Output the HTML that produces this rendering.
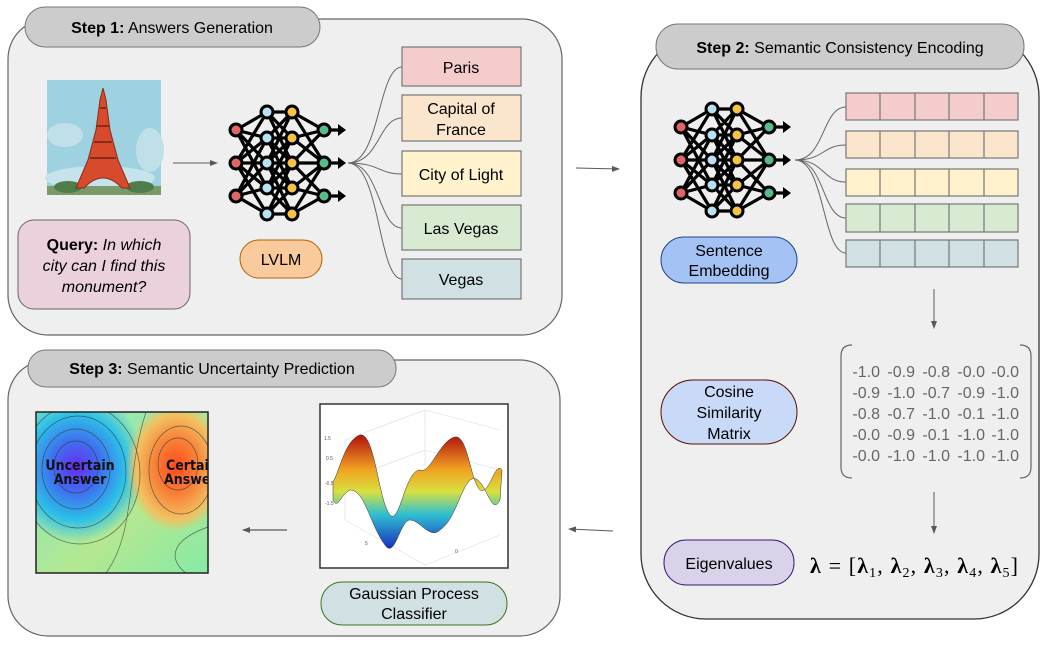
<!DOCTYPE html>
<html><head><meta charset="utf-8"><style>
html,body{margin:0;padding:0;background:#fff;}
svg{display:block;font-family:"Liberation Sans",Arial,sans-serif;}
</style></head><body>
<svg width="1046" height="654" viewBox="0 0 1046 654" xmlns="http://www.w3.org/2000/svg">
<defs>
<marker id="ah" markerWidth="8" markerHeight="8" refX="7" refY="4" orient="auto" markerUnits="userSpaceOnUse">
<path d="M0,1 L8,4 L0,7 z" fill="#595959"/></marker>
<g id="nn">
 <g stroke="#000" stroke-width="3.2" fill="none" stroke-linecap="round">
  <path d="M0,18 L31,0 M0,18 L31,26 M0,18 L31,51 M0,18 L31,76 M0,51 L31,0 M0,51 L31,26 M0,51 L31,51 M0,51 L31,76 M0,51 L31,102 M0,84 L31,26 M0,84 L31,51 M0,84 L31,76 M0,84 L31,102"/>
  <path d="M31,0 L56,0 M31,0 L56,26 M31,0 L56,51 M31,26 L56,0 M31,26 L56,26 M31,26 L56,51 M31,26 L56,76 M31,51 L56,0 M31,51 L56,26 M31,51 L56,51 M31,51 L56,76 M31,51 L56,102 M31,76 L56,26 M31,76 L56,51 M31,76 L56,76 M31,76 L56,102 M31,102 L56,51 M31,102 L56,76 M31,102 L56,102"/>
  <path d="M56,0 L88,18 M56,26 L88,18 M56,26 L88,51 M56,51 L88,18 M56,51 L88,51 M56,51 L88,84 M56,76 L88,51 M56,76 L88,84 M56,102 L88,84 M56,0 L88,51 M56,102 L88,51"/>
  <path d="M88,18 L104,18 M88,51 L104,51 M88,84 L104,84"/>
 </g>
 <g fill="#000"><path d="M102,12 L110,18 L102,24z M102,45 L110,51 L102,57z M102,78 L110,84 L102,90z"/></g>
 <g stroke="#000" stroke-width="3">
  <circle cx="0" cy="18" r="6" fill="#e06666"/><circle cx="0" cy="51" r="6" fill="#e06666"/><circle cx="0" cy="84" r="6" fill="#e06666"/>
  <circle cx="31" cy="0" r="6" fill="#b8e2f2"/><circle cx="31" cy="26" r="6" fill="#b8e2f2"/><circle cx="31" cy="51" r="6" fill="#b8e2f2"/><circle cx="31" cy="76" r="6" fill="#b8e2f2"/><circle cx="31" cy="102" r="6" fill="#b8e2f2"/>
  <circle cx="56" cy="0" r="6" fill="#f6c342"/><circle cx="56" cy="26" r="6" fill="#f6c342"/><circle cx="56" cy="51" r="6" fill="#f6c342"/><circle cx="56" cy="76" r="6" fill="#f6c342"/><circle cx="56" cy="102" r="6" fill="#f6c342"/>
  <circle cx="88" cy="18" r="6" fill="#57bb8a"/><circle cx="88" cy="51" r="6" fill="#57bb8a"/><circle cx="88" cy="84" r="6" fill="#57bb8a"/>
 </g>
</g>
<radialGradient id="blue" cx="0.5" cy="0.5" r="0.5"><stop offset="0" stop-color="#6a2cf0"/><stop offset="0.35" stop-color="#3f6ff0"/><stop offset="0.7" stop-color="#2cc0e8"/><stop offset="1" stop-color="#2cc0e8" stop-opacity="0"/></radialGradient>
<radialGradient id="red" cx="0.5" cy="0.5" r="0.5"><stop offset="0" stop-color="#ff4a1c"/><stop offset="0.45" stop-color="#f7843a"/><stop offset="0.8" stop-color="#f2c060"/><stop offset="1" stop-color="#f2c060" stop-opacity="0"/></radialGradient>
<linearGradient id="bg3" x1="0" y1="0" x2="1" y2="1"><stop offset="0" stop-color="#7fe6c8"/><stop offset="0.6" stop-color="#b4e890"/><stop offset="1" stop-color="#86eaa6"/></linearGradient>
<linearGradient id="surf" x1="0" y1="0" x2="0" y2="1"><stop offset="0" stop-color="#b01010"/><stop offset="0.3" stop-color="#f0a020"/><stop offset="0.5" stop-color="#d8e040"/><stop offset="0.7" stop-color="#30c0d0"/><stop offset="1" stop-color="#1830c0"/></linearGradient>
</defs>

<!-- Step 1 panel -->
<path d="M48,19 H522 A40,40 0 0 1 562,59 V295 A40,40 0 0 1 522,335 H48 A40,40 0 0 1 8,295 V59 A40,40 0 0 1 48,19 Z" fill="#efefef" stroke="#666" stroke-width="1.2"/>
<rect x="25" y="7" width="295" height="40" rx="20" fill="#cccccc" stroke="#777" stroke-width="1"/>
<text x="172" y="33" font-size="16" text-anchor="middle"><tspan font-weight="bold">Step 1:</tspan> Answers Generation</text>

<!-- Eiffel image -->
<rect x="47" y="80" width="114" height="115" fill="#9fd2e0"/>
<ellipse cx="65" cy="135" rx="18" ry="12" fill="#bfe0e8"/>
<ellipse cx="150" cy="150" rx="14" ry="22" fill="#bfe0e8"/>
<ellipse cx="100" cy="178" rx="55" ry="12" fill="#c5e3ea"/>
<rect x="47" y="186" width="114" height="9" fill="#7a9a6a"/>
<ellipse cx="68" cy="187" rx="14" ry="6" fill="#4f7d4a"/><ellipse cx="140" cy="187" rx="14" ry="6" fill="#4f7d4a"/>
<path d="M103,88 L100,100 L96,130 L88,160 L76,188 L84,188 Q103,168 122,188 L130,188 L118,160 L110,130 L106,100 Z" fill="#d84a2c" stroke="#8a2a18" stroke-width="1"/>
<path d="M90,158 H116 M94,142 H112 M97,126 H109 M100,108 H106" stroke="#8a2a18" stroke-width="2"/>

<line x1="173" y1="163" x2="217" y2="163" stroke="#595959" stroke-width="1" marker-end="url(#ah)"/>

<rect x="18" y="220" width="172" height="89" rx="16" fill="#ead1dc" stroke="#666" stroke-width="1"/>
<text font-size="16" text-anchor="middle"><tspan x="104" y="250"><tspan font-weight="bold">Query:</tspan> <tspan font-style="italic">In which</tspan></tspan><tspan x="104" y="271" font-style="italic">city can I find this</tspan><tspan x="104" y="292" font-style="italic">monument?</tspan></text>

<use href="#nn" x="236" y="112"/>

<rect x="240" y="240" width="82" height="38" rx="19" fill="#f9cb9c" stroke="#b45f06" stroke-width="1"/>
<text x="281" y="265" font-size="16" text-anchor="middle">LVLM</text>

<g fill="none" stroke="#666" stroke-width="1">
<path d="M348,163 C380,163 378,67 402,67"/>
<path d="M348,163 C380,163 378,118 402,118"/>
<path d="M348,163 C380,163 378,174 402,174"/>
<path d="M348,163 C380,163 378,228 402,228"/>
<path d="M348,163 C380,163 378,279 402,279"/>
</g>
<g stroke="#777" stroke-width="1.2">
<rect x="402" y="47" width="119" height="39" fill="#f4cccc"/>
<rect x="402" y="95" width="119" height="46" fill="#fce5cd"/>
<rect x="402" y="151" width="119" height="45" fill="#fff2cc"/>
<rect x="402" y="205" width="119" height="45" fill="#d9ead3"/>
<rect x="402" y="259" width="119" height="40" fill="#d0e0e3"/>
</g>
<g font-size="16" text-anchor="middle" fill="#000">
<text x="461" y="73">Paris</text>
<text x="461" y="114">Capital of</text><text x="461" y="135">France</text>
<text x="461" y="180">City of Light</text>
<text x="461" y="234">Las Vegas</text>
<text x="461" y="285">Vegas</text>
</g>

<line x1="576" y1="168" x2="619" y2="169" stroke="#595959" stroke-width="1" marker-end="url(#ah)"/>

<!-- Step 2 panel -->
<path d="M706,32 H974 A65,65 0 0 1 1039,97 V554 A65,65 0 0 1 974,619 H706 A65,65 0 0 1 641,554 V97 A65,65 0 0 1 706,32 Z" fill="#efefef" stroke="#333" stroke-width="1.3"/>
<rect x="656" y="24" width="368" height="45" rx="22" fill="#cccccc" stroke="#777" stroke-width="1"/>
<text x="840" y="53" font-size="16" text-anchor="middle"><tspan font-weight="bold">Step 2:</tspan> Semantic Consistency Encoding</text>

<use href="#nn" x="681" y="109"/>
<g fill="none" stroke="#666" stroke-width="1">
<path d="M795,160 C825,160 822,107 846,107"/>
<path d="M795,160 C825,160 822,145 846,145"/>
<path d="M795,160 C825,160 822,182 846,182"/>
<path d="M795,160 C825,160 822,218 846,218"/>
<path d="M795,160 C825,160 822,253 846,253"/>
</g>
<g stroke="#777" stroke-width="1.2">
<rect x="846" y="93" width="172" height="27" fill="#f4cccc"/>
<rect x="846" y="131" width="172" height="27" fill="#fce5cd"/>
<rect x="846" y="169" width="172" height="27" fill="#fff2cc"/>
<rect x="846" y="204" width="172" height="28" fill="#d9ead3"/>
<rect x="846" y="240" width="172" height="27" fill="#d0e0e3"/>
<path d="M880,93 V120 M915,93 V120 M949,93 V120 M984,93 V120 M880,131 V158 M915,131 V158 M949,131 V158 M984,131 V158 M880,169 V196 M915,169 V196 M949,169 V196 M984,169 V196 M880,204 V232 M915,204 V232 M949,204 V232 M984,204 V232 M880,240 V267 M915,240 V267 M949,240 V267 M984,240 V267" fill="none"/>
</g>

<rect x="661" y="237" width="136" height="46" rx="23" fill="#a4c2f4" stroke="#1c4587" stroke-width="1"/>
<text font-size="16" text-anchor="middle"><tspan x="729" y="256">Sentence</tspan><tspan x="729" y="276">Embedding</tspan></text>

<line x1="934" y1="289" x2="934" y2="328" stroke="#595959" stroke-width="1" marker-end="url(#ah)"/>

<path d="M852,345 Q841,345 841,356 V467 Q841,478 852,478" fill="none" stroke="#666" stroke-width="1.2"/>
<path d="M1020,345 Q1031,345 1031,356 V467 Q1031,478 1020,478" fill="none" stroke="#666" stroke-width="1.2"/>
<g font-size="16" fill="#666" text-anchor="end">
<text y="377"><tspan x="880">-1.0</tspan><tspan x="915">-0.9</tspan><tspan x="950">-0.8</tspan><tspan x="985">-0.0</tspan><tspan x="1019">-0.0</tspan></text>
<text y="398"><tspan x="880">-0.9</tspan><tspan x="915">-1.0</tspan><tspan x="950">-0.7</tspan><tspan x="985">-0.9</tspan><tspan x="1019">-1.0</tspan></text>
<text y="419"><tspan x="880">-0.8</tspan><tspan x="915">-0.7</tspan><tspan x="950">-1.0</tspan><tspan x="985">-0.1</tspan><tspan x="1019">-1.0</tspan></text>
<text y="440"><tspan x="880">-0.0</tspan><tspan x="915">-0.9</tspan><tspan x="950">-0.1</tspan><tspan x="985">-1.0</tspan><tspan x="1019">-1.0</tspan></text>
<text y="461"><tspan x="880">-0.0</tspan><tspan x="915">-1.0</tspan><tspan x="950">-1.0</tspan><tspan x="985">-1.0</tspan><tspan x="1019">-1.0</tspan></text>
</g>

<rect x="661" y="380" width="136" height="64" rx="32" fill="#c9daf8" stroke="#5b0f00" stroke-width="1"/>
<text font-size="16" text-anchor="middle"><tspan x="729" y="397">Cosine</tspan><tspan x="729" y="418">Similarity</tspan><tspan x="729" y="439">Matrix</tspan></text>

<line x1="934" y1="492" x2="934" y2="533" stroke="#595959" stroke-width="1" marker-end="url(#ah)"/>

<rect x="664" y="540" width="130" height="45" rx="22" fill="#d9d2e9" stroke="#351c75" stroke-width="1"/>
<text x="729" y="569" font-size="16" text-anchor="middle">Eigenvalues</text>
<text x="810" y="573" font-size="22" font-family="'Liberation Serif',serif" textLength="208" lengthAdjust="spacing"><tspan font-weight="bold">λ</tspan> = [<tspan font-weight="bold">λ</tspan><tspan font-size="14" dy="4">1</tspan><tspan dy="-4">, </tspan><tspan font-weight="bold">λ</tspan><tspan font-size="14" dy="4">2</tspan><tspan dy="-4">, </tspan><tspan font-weight="bold">λ</tspan><tspan font-size="14" dy="4">3</tspan><tspan dy="-4">, </tspan><tspan font-weight="bold">λ</tspan><tspan font-size="14" dy="4">4</tspan><tspan dy="-4">, </tspan><tspan font-weight="bold">λ</tspan><tspan font-size="14" dy="4">5</tspan><tspan dy="-4">]</tspan></text>

<line x1="613" y1="531" x2="569" y2="529" stroke="#595959" stroke-width="1" marker-end="url(#ah)"/>

<!-- Step 3 panel -->
<path d="M48,360 H520 A40,40 0 0 1 560,400 V596 A40,40 0 0 1 520,636 H48 A40,40 0 0 1 8,596 V400 A40,40 0 0 1 48,360 Z" fill="#efefef" stroke="#666" stroke-width="1.2"/>
<rect x="28" y="350" width="368" height="37" rx="18" fill="#cccccc" stroke="#777" stroke-width="1"/>
<text x="212" y="374" font-size="16" text-anchor="middle"><tspan font-weight="bold">Step 3:</tspan> Semantic Uncertainty Prediction</text>

<svg x="36" y="412" width="172" height="161" viewBox="0 0 172 161">
<rect width="172" height="161" fill="url(#bg3)"/>
<ellipse cx="40" cy="55" rx="70" ry="75" fill="url(#blue)"/>
<ellipse cx="140" cy="55" rx="50" ry="65" fill="url(#red)"/>
<g fill="none" stroke="#333" stroke-width="0.7" opacity="0.7">
<ellipse cx="40" cy="55" rx="22" ry="26"/><ellipse cx="40" cy="57" rx="34" ry="40"/><ellipse cx="42" cy="60" rx="48" ry="56"/><ellipse cx="44" cy="62" rx="60" ry="70"/>
<ellipse cx="142" cy="52" rx="20" ry="26"/><ellipse cx="145" cy="58" rx="32" ry="44"/>
<path d="M110,0 C90,60 100,120 70,161"/><path d="M150,161 C135,150 130,130 172,115"/>
</g>
<text x="44" y="58" font-size="14" font-weight="bold" text-anchor="middle" font-family="'DejaVu Sans Condensed','DejaVu Sans',sans-serif" fill="#111">Uncertain</text>
<text x="44" y="72" font-size="14" font-weight="bold" text-anchor="middle" font-family="'DejaVu Sans Condensed','DejaVu Sans',sans-serif" fill="#111">Answer</text>
<text x="130" y="58" font-size="14" font-weight="bold" font-family="'DejaVu Sans Condensed','DejaVu Sans',sans-serif" fill="#111">Certain</text>
<text x="128" y="72" font-size="14" font-weight="bold" font-family="'DejaVu Sans Condensed','DejaVu Sans',sans-serif" fill="#111">Answer</text>
</svg>
<rect x="36" y="412" width="172" height="161" fill="none" stroke="#222" stroke-width="1.5"/>

<line x1="287" y1="530" x2="243" y2="530" stroke="#595959" stroke-width="1.2" marker-end="url(#ah)"/>

<rect x="320" y="404" width="188" height="164" fill="#fff" stroke="#333" stroke-width="1.5"/>
<g stroke="#ddd" stroke-width="0.6" fill="none">
<path d="M345,440 L425,410 L500,430 M425,410 V500 M345,440 V520 L425,565 L500,535 M345,480 L425,450 L500,470"/>
</g>
<path d="M333,482 C340,470 345,440 360,435 C375,432 378,500 390,515 C400,525 405,470 420,470 C430,475 440,440 455,437 C468,435 470,480 480,490 C490,495 495,460 502,470 L500,500 C490,520 485,470 470,480 C460,490 455,520 440,530 C430,540 420,520 410,520 C400,520 395,560 385,545 C370,525 365,490 350,490 C340,495 338,510 333,500 Z" fill="url(#surf)" stroke="#333" stroke-width="0.5"/>
<g font-size="5" fill="#555"><text x="324" y="440">1.5</text><text x="326" y="460">0.5</text><text x="325" y="485">-0.5</text><text x="325" y="505">-1.5</text><text x="455" y="553">0</text><text x="365" y="545">5</text></g>

<rect x="321" y="582" width="186" height="43" rx="21" fill="#d0e0e3" stroke="#38761d" stroke-width="1"/>
<text font-size="16" text-anchor="middle"><tspan x="414" y="599">Gaussian Process</tspan><tspan x="414" y="619">Classifier</tspan></text>
</svg>
</body></html>
